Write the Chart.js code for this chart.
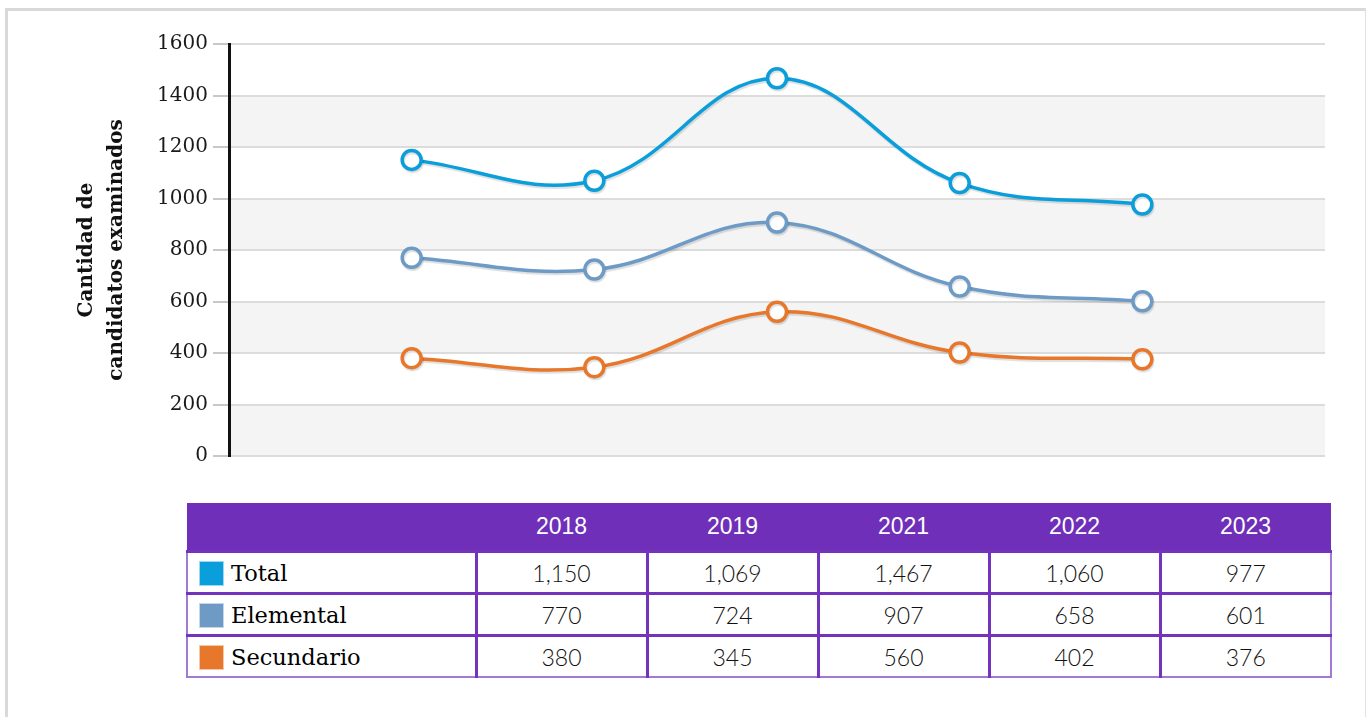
<!DOCTYPE html>
<html>
<head>
<meta charset="utf-8">
<script src="https://cdn.jsdelivr.net/npm/chart.js@4/dist/chart.umd.min.js"></script>
<style>
  html, body { margin: 0; padding: 0; background: #fff; }
  body { width: 1367px; height: 717px; position: relative; overflow: hidden; }
  #frame { position: absolute; left: 5px; top: 8px; width: 1357px; height: 720px;
           border-top: 3px solid #d9d9d9; border-left: 3px solid #d9d9d9; border-right: 1px solid #e2e2e2; }
  #wrap { position: absolute; left: 0; top: 0; width: 1367px; height: 480px; }
  table { position: absolute; left: 186px; top: 503px; width: 1146px; border-collapse: collapse;
          table-layout: fixed; }
  th { background: #6f2fb9; color: #fff; font: 400 23px "Liberation Sans", Arial, sans-serif;
       height: 47px; padding: 0; text-align: center; }
  td { height: 39px; padding: 0; text-align: center; border: 3px solid #7433bd;
       font: 300 23px "Lato", "Roboto", sans-serif; color: #111; }
  td.lab { text-align: left; font: 400 22.5px "DejaVu Serif", serif; color: #000; border-left: 2px solid #a27ad6; }
  td.last { border-right: 2px solid #a27ad6; }
  tr:last-child td { border-bottom: 2px solid #a27ad6; }
  .sw { display: inline-block; width: 25px; height: 25px; vertical-align: -5px; margin: 0 7px 0 11px;
        box-shadow: 0 0 0 1px rgba(255,255,255,0.6) inset; }
</style>
</head>
<body>
<div id="frame"></div>
<div id="wrap"><canvas id="c" width="1367" height="480"></canvas></div>
<table id="tbl"></table>
<script>
const years = ['2018', '2019', '2021', '2022', '2023'];
const seriesNames = ['Total', 'Elemental', 'Secundario'];
const total = [1150, 1069, 1467, 1060, 977];
const elemental = [770, 724, 907, 658, 601];
const secundario = [380, 345, 560, 402, 376];
const tableTotal = ['1,150', '1,069', '1,467', '1,060', '977'];
const tableElemental = ['770', '724', '907', '658', '601'];
const tableSecundario = ['380', '345', '560', '402', '376'];
const colors = ['#0a9edb', '#6d9bc6', '#e7772b'];
const yTitle = ['Cantidad de', 'candidatos examinados'];

const xLabels = [''].concat(years, ['']);
const pad = arr => [null].concat(arr, [null]);

const bandPlugin = {
  id: 'bands',
  beforeDraw(chart) {
    const {ctx, chartArea: a, scales: {y}} = chart;
    ctx.save();
    ctx.fillStyle = '#f4f4f4';
    const ticks = y.ticks.map(t => t.value);
    for (let i = 0; i < ticks.length - 1; i += 2) {
      const y0 = y.getPixelForValue(ticks[i]);
      const y1 = y.getPixelForValue(ticks[i + 1]);
      ctx.fillRect(a.left, y1, a.right - a.left, y0 - y1);
    }
    ctx.restore();
  }
};
const shadowPlugin = {
  id: 'lshadow',
  beforeDatasetDraw(chart) {
    const ctx = chart.ctx;
    ctx.save();
    ctx.shadowColor = 'rgba(0,0,0,0.13)';
    ctx.shadowOffsetX = 1;
    ctx.shadowOffsetY = 2;
    ctx.shadowBlur = 1;
  },
  afterDatasetDraw(chart) { chart.ctx.restore(); }
};

const dsets = [total, elemental, secundario].map((d, i) => ({
  label: seriesNames[i],
  data: pad(d),
  borderColor: colors[i],
  backgroundColor: '#fff',
  pointBackgroundColor: '#fff',
  pointBorderColor: colors[i],
  pointRadius: 9.5,
  pointBorderWidth: 3.5,
  borderWidth: 3.5,
  tension: 0.4,
  fill: false
}));

new Chart(document.getElementById('c'), {
  type: 'line',
  data: { labels: xLabels, datasets: dsets },
  options: {
    responsive: false,
    animation: false,
    events: [],
    layout: { padding: { left: 58, right: 42, top: 44, bottom: 24 } },
    plugins: { legend: { display: false }, tooltip: { enabled: false } },
    scales: {
      x: { type: 'category', display: false, offset: false },
      y: {
        min: 0, max: 1600,
        ticks: { stepSize: 200, padding: 5, color: '#1a1a1a', font: { family: 'DejaVu Serif', size: 20 },
                 callback: v => String(v) },
        grid: { color: '#dcdcdc', lineWidth: 2, tickLength: 16, tickColor: '#c8c8c8' },
        border: { display: true, color: '#111', width: 3 },
        title: { display: true, text: yTitle, color: '#111', padding: { top: 14, bottom: 0 },
                 font: { family: 'DejaVu Serif', size: 20, weight: 'bold', lineHeight: '30px' } },
        afterFit(scale) { scale.width = 171; }
      }
    }
  },
  plugins: [bandPlugin, shadowPlugin]
});

// Build the data table
const tbl = document.getElementById('tbl');
let html = '<colgroup><col style="width:289px">' + years.map(() => '<col style="width:171px">').join('') + '</colgroup>';
html += '<tr><th></th>' + years.map(y => '<th>' + y + '</th>').join('') + '</tr>';
[tableTotal, tableElemental, tableSecundario].forEach((row, i) => {
  html += '<tr><td class="lab"><span class="sw" style="background:' + colors[i] + '"></span>' + seriesNames[i] + '</td>' +
    row.map((v, j) => '<td' + (j === row.length - 1 ? ' class="last"' : '') + '>' + v + '</td>').join('') + '</tr>';
});
tbl.innerHTML = html;
</script>
</body>
</html>
